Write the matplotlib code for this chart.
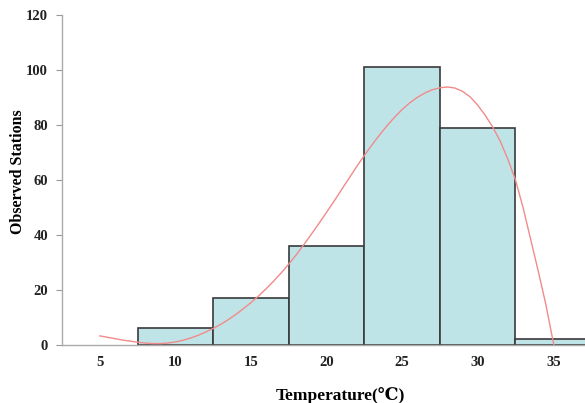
import matplotlib
matplotlib.use("Agg")
import matplotlib.pyplot as plt

plt.rcParams['font.family'] = ['Liberation Serif', 'DejaVu Serif']
plt.rcParams['font.weight'] = 'bold'

# Histogram bins (centres) and counts
bin_centers = [10, 15, 20, 25, 30, 35]
counts = [6, 17, 36, 101, 79, 2]
bin_width = 5

# Fitted curve
curve_x = [5, 5.5, 6, 6.5, 7, 7.5, 8, 8.5, 9, 9.5, 10, 10.5, 11, 11.5, 12, 12.5,
           13, 13.5, 14, 14.5, 15, 15.5, 16, 16.5, 17, 17.5, 18, 18.5, 19, 19.5,
           20, 20.5, 21, 21.5, 22, 22.5, 23, 23.5, 24, 24.5, 25, 25.5, 26, 26.5,
           27, 27.5, 28, 28.5, 29, 29.5, 30, 30.5, 31, 31.5, 32, 32.5, 33, 33.5,
           34, 34.5, 35, 35.05]
curve_y = [3.3, 2.8, 2.3, 1.8, 1.4, 1.0, 0.7, 0.5, 0.5, 0.7, 1.1, 1.7, 2.5, 3.5,
           4.7, 6.0, 7.5, 9.2, 11.1, 13.2, 15.4, 17.8, 20.4, 23.2, 26.2, 29.4,
           32.8, 36.5, 40.3, 44.2, 48.2, 52.3, 56.5, 60.7, 64.9, 68.9, 72.7, 76.3,
           79.7, 82.8, 85.6, 88.0, 90.0, 91.6, 92.8, 93.5, 93.8, 93.4, 92.2, 90.2,
           87.2, 83.5, 79.2, 74.0, 67.5, 60.0, 50.0, 38.5, 27.0, 15.0, 1.0, 0.0]

xticks = [5, 10, 15, 20, 25, 30, 35]
yticks = [0, 20, 40, 60, 80, 100, 120]

fig = plt.figure(figsize=(5.85, 4.03), dpi=100)
ax = fig.add_axes([0.106, 0.144, 0.894, 0.819])

ax.bar(bin_centers, counts, width=bin_width, color='#bfe4e8',
       edgecolor='#3a3a3a', linewidth=1.2, zorder=2)
ax.plot(curve_x, curve_y, color='#f28a8a', linewidth=1.0, zorder=3)

ax.set_xlim(2.5, 37.1)
ax.set_ylim(0, 120)
ax.set_xticks(xticks)
ax.set_yticks(yticks)
ax.tick_params(axis='both', labelsize=10.5, colors='#999999', labelcolor='#222222')
ax.tick_params(axis='x', length=0, pad=8)
ax.tick_params(axis='y', length=4, pad=6)

for s in ['top', 'right']:
    ax.spines[s].set_visible(False)
for s in ['left', 'bottom']:
    ax.spines[s].set_color('#aaaaaa')
    ax.spines[s].set_linewidth(1.0)

fig.text(340 / 585, 1 - 395 / 403, 'Temperature(℃)', fontsize=12.5,
         fontweight='bold', ha='center', va='center')
fig.text(18 / 585, 1 - 172 / 403, 'Observed Stations', fontsize=11.5,
         fontweight='bold', ha='center', va='center', rotation=90)

fig.savefig('out.png', dpi=100)
